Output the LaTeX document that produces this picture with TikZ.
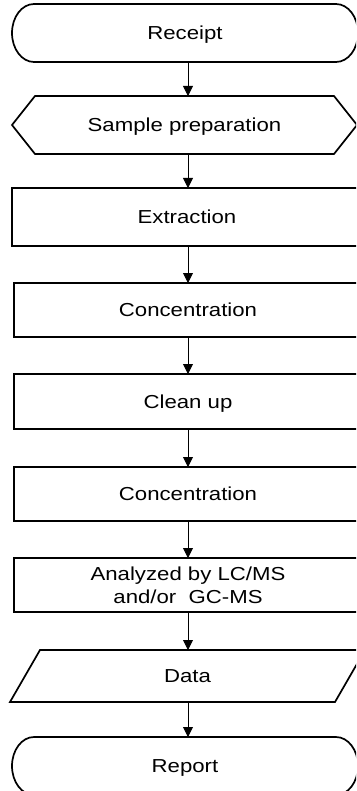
\documentclass[tikz,border=0pt]{standalone}
\usepackage{fontspec}
\setmainfont[FakeStretch=1.18]{Liberation Sans}
\usetikzlibrary{arrows.meta}
\begin{document}
\begin{tikzpicture}[x=1pt,y=-1pt,
  every node/.style={inner sep=0pt,outer sep=0pt,font=\fontsize{18.8}{22.7}\selectfont},
  box/.style={draw=none,minimum height=#1,text height=13.4pt,text depth=0pt},
  outline/.style={draw=black,line width=1.7pt,line join=miter},
  flow/.style={draw=black,line width=0.9pt,-{Triangle[length=10pt,width=10pt]}}]
\useasboundingbox (0,0) rectangle (356,791);
\clip (0,0) rectangle (356,791);
% nodes
\node[box=58,minimum width=346] (receipt) at (185,33) {Receipt};
\node[box=58,minimum width=345] (prep) at (184.5,125) {Sample preparation};
\node[box=58,minimum width=350] (extr) at (187,217) {Extraction};
\node[box=54,minimum width=348] (conc1) at (188,310) {Concentration};
\node[box=55,minimum width=348] (clean) at (188,401.5) {Clean up};
\node[box=54,minimum width=348] (conc2) at (188,494) {Concentration};
\node[draw=none,minimum height=54,minimum width=348] (anal) at (188,585) {};
\node[align=center] (analtext) at (anal) {Analyzed by LC/MS\\and/or\ \ GC-MS};
\node[box=52,minimum width=325] (data) at (187.5,676) {Data};
\node[box=58,minimum width=346] (report) at (185,766) {Report};
% outlines
\draw[outline] ([xshift=22]receipt.north west) -- ([xshift=-22]receipt.north east)
  arc[start angle=-90,end angle=90,x radius=22,y radius=29]
  -- ([xshift=22]receipt.south west)
  arc[start angle=90,end angle=270,x radius=22,y radius=29] -- cycle;
\draw[outline] ([xshift=23]prep.north west) -- (prep.west) -- ([xshift=23]prep.south west)
  -- ([xshift=-23]prep.south east) -- (prep.east) -- ([xshift=-23]prep.north east) -- cycle;
\draw[outline] (extr.north west) rectangle (extr.south east);
\draw[outline] (conc1.north west) rectangle (conc1.south east);
\draw[outline] (clean.north west) rectangle (clean.south east);
\draw[outline] (conc2.north west) rectangle (conc2.south east);
\draw[outline] (anal.north west) rectangle (anal.south east);
\draw[outline] ([xshift=15]data.north west) -- ([xshift=15]data.north east)
  -- ([xshift=-15]data.south east) -- ([xshift=-15]data.south west) -- cycle;
\draw[outline] ([xshift=22]report.north west) -- ([xshift=-22]report.north east)
  arc[start angle=-90,end angle=90,x radius=22,y radius=29]
  -- ([xshift=22]report.south west)
  arc[start angle=90,end angle=270,x radius=22,y radius=29] -- cycle;
% connectors
\draw[flow] ([xshift=3]receipt.south) -- ([xshift=3]receipt.south |- prep.north);
\draw[flow] ([xshift=3.5]prep.south) -- ([xshift=3.5]prep.south |- extr.north);
\draw[flow] ([xshift=1]extr.south) -- ([xshift=1]extr.south |- conc1.north);
\draw[flow] (conc1.south) -- (clean.north);
\draw[flow] (clean.south) -- (conc2.north);
\draw[flow] (conc2.south) -- (anal.north);
\draw[flow] (anal.south) -- (anal.south |- data.north);
\draw[flow] (anal.south |- data.south) -- (anal.south |- report.north);
\end{tikzpicture}
\end{document}
